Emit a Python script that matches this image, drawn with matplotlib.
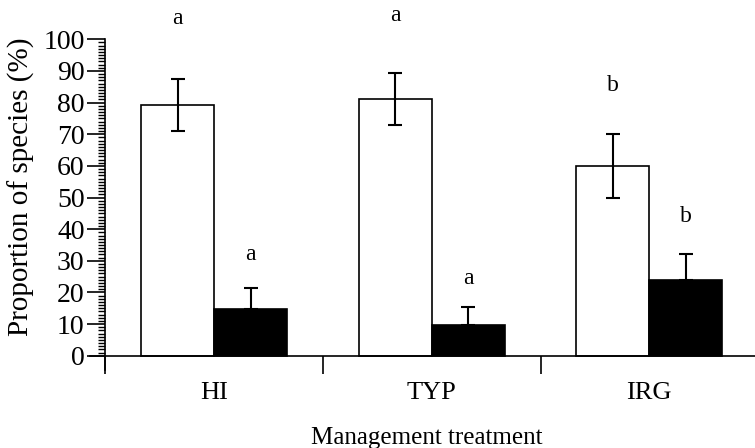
import numpy as np
import matplotlib.pyplot as plt
from matplotlib.ticker import FixedLocator

plt.rcParams['font.family'] = 'Liberation Serif'

treatments = ['HI', 'TYP', 'IRG']
native = [79.3, 81.0, 60.0]
native_err = [8.3, 8.2, 10.0]
exotic = [14.7, 9.7, 24.0]
exotic_err = [6.6, 5.8, 8.0]
native_letters = ['a', 'a', 'b']
exotic_letters = ['a', 'a', 'b']
native_letter_y = [106.5, 107.5, 85.5]
exotic_letter_y = [32.0, 24.5, 44.0]

x = np.arange(len(treatments))
w = 0.336

fig = plt.figure(figsize=(7.55, 4.48), dpi=100)
ax = fig.add_axes([90 / 755, 1 - 370 / 448, 665 / 755, (370 - 39.3) / 448])

ax.bar(x - w / 2, native, w, color='white', edgecolor='black', linewidth=1.2,
       yerr=native_err, error_kw=dict(ecolor='black', elinewidth=1.5, capsize=5, capthick=1.5))
ax.bar(x + w / 2, exotic, w, color='black', edgecolor='black', linewidth=1.2,
       yerr=[np.zeros(3), exotic_err],
       error_kw=dict(ecolor='black', elinewidth=1.5, capsize=5, capthick=1.5))

# significance letters above each bar
for xi, ly, lab in zip(x - w / 2, native_letter_y, native_letters):
    ax.text(xi, ly, lab, ha='center', va='center', fontsize=17)
for xi, ly, lab in zip(x + w / 2, exotic_letter_y, exotic_letters):
    ax.text(xi, ly, lab, ha='center', va='center', fontsize=17)

ax.set_xlim(-0.571, 2.486)
ax.set_ylim(-4.5, 100)

ax.spines['top'].set_visible(False)
ax.spines['right'].set_visible(False)
ax.spines['left'].set_position(('data', -0.5))
ax.spines['bottom'].set_position(('data', 0))
for s in ('left', 'bottom'):
    ax.spines[s].set_linewidth(1.2)

ax.set_yticks(np.arange(0, 101, 10))
ax.yaxis.set_minor_locator(FixedLocator(np.arange(0, 101, 1)))
ax.tick_params(axis='y', which='major', length=13, width=1.2, pad=2, labelsize=20)
ax.tick_params(axis='y', which='minor', length=5, width=1.0)

ax.set_xticks(x)
ax.set_xticklabels(treatments)
ax.xaxis.set_minor_locator(FixedLocator([-0.5, 0.5, 1.5]))
ax.tick_params(axis='x', which='major', length=0, pad=19, labelsize=19)
ax.tick_params(axis='x', which='minor', length=13, width=1.2)

ax.set_ylabel('Proportion of species (%)', fontsize=21)
ax.yaxis.set_label_coords(-0.083, 0.553)
ax.set_xlabel('Management treatment', fontsize=18)
ax.xaxis.set_label_coords(0.507, -0.172)

fig.savefig('out.png', dpi=100)
